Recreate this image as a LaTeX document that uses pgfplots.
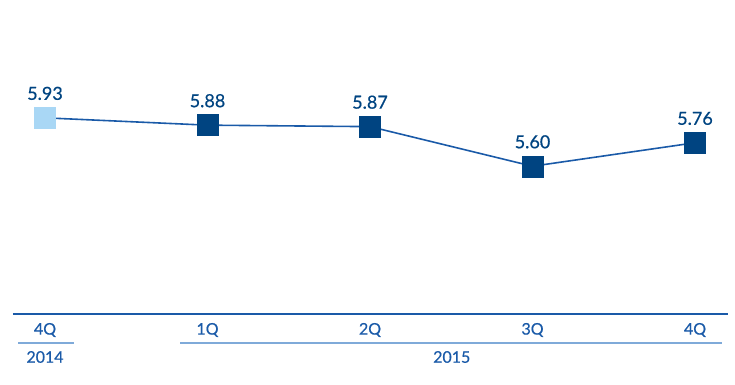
\documentclass[border=0pt]{standalone}
\usepackage{pgfplots}
\pgfplotsset{compat=1.18}
\usepackage{fontspec}
\setmainfont{Lato}[FakeBold=0.6,UprightFeatures={FakeBold=0.6}]
\definecolor{dkblue}{HTML}{004481}
\definecolor{ltblue}{HTML}{A9D7F5}
\definecolor{lnblue}{HTML}{1A5AA8}
\definecolor{ulblue}{HTML}{7FAAD9}
\begin{document}
\begin{tikzpicture}[x=1pt,y=1pt]
\path[use as bounding box] (0,0) rectangle (735,384);
\begin{axis}[
  at={(13pt,70pt)}, anchor=south west,
  scale only axis, width=715pt, height=294pt,
  xmin=-0.197, xmax=4.203, ymin=4.5925, ymax=6.597,
  axis x line=bottom, axis y line=none,
  axis line style={lnblue, line width=1.5pt, -},
  xtick={0,1,2,3,4}, xticklabels={4Q,1Q,2Q,3Q,4Q},
  major tick length=0pt,
  xticklabel style={text=lnblue, font=\fontsize{16}{18}\selectfont, anchor=center, yshift=-16pt},
  clip=false,
  nodes near coords style={text=dkblue, font=\fontsize{18}{20}\selectfont, anchor=base, yshift=18pt},
  point meta=explicit symbolic,
]
\addplot[lnblue, line width=1.6pt, mark=none] coordinates {(0,5.93) (1,5.88) (2,5.87) (3,5.60) (4,5.76)};
\addplot[only marks, mark=square*, mark size=10.5pt, mark options={fill=ltblue, draw=ltblue}, nodes near coords] coordinates {(0,5.93) [5.93]};
\addplot[only marks, mark=square*, mark size=10.5pt, mark options={fill=dkblue, draw=dkblue}, nodes near coords] coordinates {(1,5.88) [5.88] (2,5.87) [5.87] (3,5.60) [5.60] (4,5.76) [5.76]};
\draw[ulblue, line width=1.5pt] ([yshift=-29pt]axis cs:-0.166,4.5925) -- ([yshift=-29pt]axis cs:0.178,4.5925);
\draw[ulblue, line width=1.5pt] ([yshift=-29pt]axis cs:0.831,4.5925) -- ([yshift=-29pt]axis cs:4.166,4.5925);
\node[text=lnblue, font=\fontsize{16}{18}\selectfont, anchor=center] at ([yshift=-43pt]axis cs:0,4.5925) {2014};
\node[text=lnblue, font=\fontsize{16}{18}\selectfont, anchor=center] at ([yshift=-43pt]axis cs:2.503,4.5925) {2015};
\end{axis}
\end{tikzpicture}
\end{document}
